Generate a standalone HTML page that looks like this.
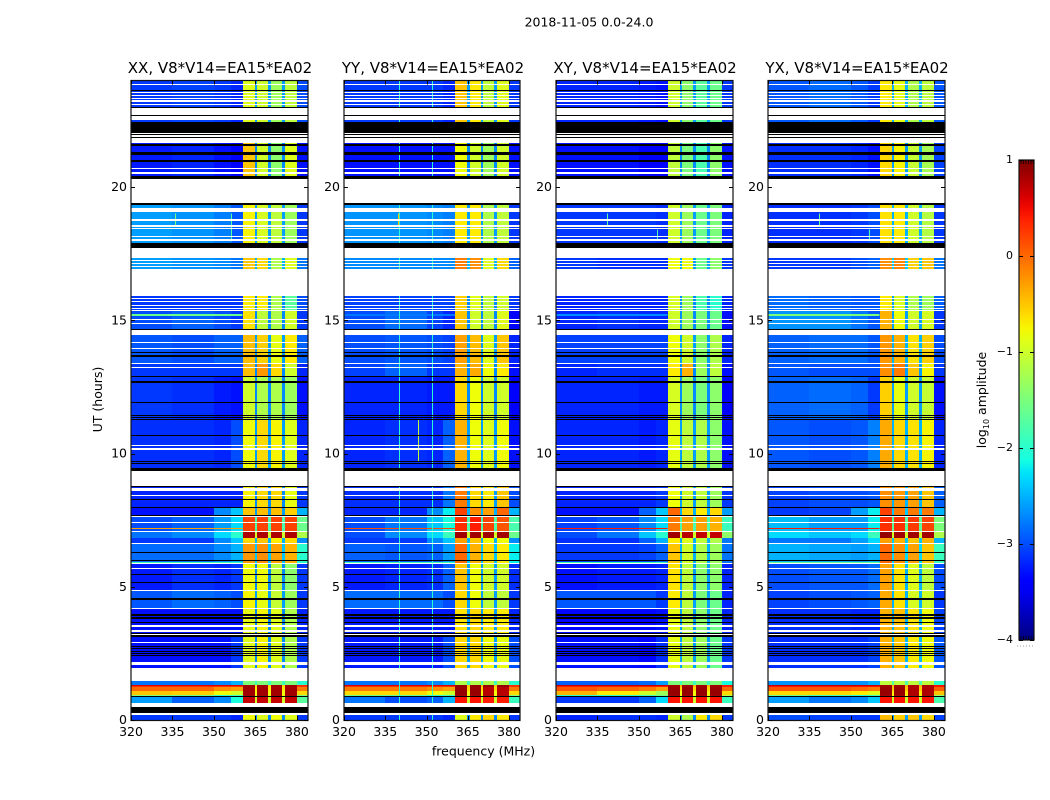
<!DOCTYPE html>
<html>
<head>
<meta charset="utf-8">
<title>Spectrogram 2018-11-05</title>
<style>
html,body{margin:0;padding:0;background:#fff;}
svg{display:block;}
text{font-family:"DejaVu Sans","Liberation Sans",sans-serif;fill:#000;}
</style>
</head>
<body>
<svg id="chart" xmlns="http://www.w3.org/2000/svg" width="1050" height="800" viewBox="0 0 1050 800">
  <rect x="0" y="0" width="1050" height="800" fill="#fff"/>
  <text x="589" y="26.5" text-anchor="middle" font-size="12.5">2018-11-05 0.0-24.0</text>
  <text x="220" y="73" text-anchor="middle" font-size="15">XX, V8*V14=EA15*EA02</text>
  <text x="433" y="73" text-anchor="middle" font-size="15">YY, V8*V14=EA15*EA02</text>
  <text x="645" y="73" text-anchor="middle" font-size="15">XY, V8*V14=EA15*EA02</text>
  <text x="857" y="73" text-anchor="middle" font-size="15">YX, V8*V14=EA15*EA02</text>
  <text x="483.5" y="755.5" text-anchor="middle" font-size="12.5">frequency (MHz)</text>
  <text transform="translate(102,399.5) rotate(-90)" text-anchor="middle" font-size="12.5">UT (hours)</text>
  <text transform="translate(986,400) rotate(-90)" text-anchor="middle" font-size="12.5">log<tspan font-size="8" dy="3">10</tspan><tspan dy="-3"> amplitude</tspan></text>
  <g id="plots"></g>
  <g id="cbar"></g>
</svg>
<script>
// Axis ranges and ticks
const freqRange = [320, 384];
const hourRange = [0, 24];
const levelRange = [-4, 1];
const freqTicks = [320, 335, 350, 365, 380];
const hourTicks = [0, 5, 10, 15, 20];
const levelTicks = [1, 0, -1, -2, -3, -4];
const panelNames = ['xx', 'yy', 'xy', 'yx'];

// Frequency segments (MHz): 320..335..350..356..360.4, four sub-bands with gaps, 380..384
const freqEdges = [320, 335, 350, 356, 360.4, 364.7, 365.7, 369.7, 370.7, 374.7, 375.7, 380, 384];
// Hour edges of the time blocks, top to bottom
const blockEdges = [24, 21.65, 19.41, 17.34, 15.9, 15.35, 14.46, 13.4, 12.87, 11.3, 8.78, 8.0, 7.6, 7.06, 6.82, 6.6, 5.9, 4.85, 4.15, 3.1, 1.46, 1.3, 1.22, 1.08, 0.95, 0.86, 0.5, 0];

// log10 amplitude per block: [320-335, 335-350, 350-356, 356-360, sub1, sub2, sub3, sub4, 380-384, gaps]
const xxLevels = [
[-3.1,-3.05,-3.1,-3.2,-0.9,-1.0,-1.3,-1.1,-3.0,-2.6],
[-3.25,-3.2,-3.3,-3.4,-0.5,-1.0,-1.4,-0.9,-3.3,-2.7],
[-2.6,-2.65,-2.75,-2.95,-0.75,-0.95,-1.1,-1.3,-3.1,-2.6],
[-2.6,-2.65,-2.7,-2.8,-0.5,-0.6,-1.2,-0.9,-2.8,-2.5],
[-3.1,-3.1,-3.1,-3.1,-0.7,-0.7,-1.2,-1.7,-3.0,-2.7],
[-3.0,-2.9,-3.0,-3.1,-0.65,-1.1,-1.2,-1.0,-3.1,-2.7],
[-2.95,-3.0,-2.9,-2.9,-0.45,-0.55,-0.85,-0.7,-2.9,-2.6],
[-3.1,-3.1,-3.1,-3.1,-0.45,-0.25,-0.6,-1.0,-3.2,-2.7],
[-3.1,-3.15,-3.25,-3.3,-1.0,-1.2,-1.2,-1.3,-3.3,-2.7],
[-3.15,-3.15,-3.2,-3.0,-0.8,-0.6,-0.75,-0.9,-3.2,-2.6],
[-3.2,-3.2,-3.2,-3.2,-0.75,-0.6,-0.6,-0.85,-3.1,-2.7],
[-3.3,-3.3,-2.7,-2.4,-0.5,-0.45,-0.45,-0.55,-2.5,-2.6],
[-3.0,-2.9,-2.6,-2.3,0.2,0.2,0.2,0.2,-1.6,-1.8],
[-2.8,-2.7,-2.3,-2.0,0.8,0.8,0.8,0.8,-1.2,-1.0],
[-3.1,-3.1,-2.7,-2.4,-0.6,-0.5,-0.7,-0.6,-2.7,-2.5],
[-2.85,-2.85,-2.7,-2.5,-0.25,-0.2,-0.3,-0.4,-2.0,-2.4],
[-3.25,-3.15,-3.2,-3.1,-0.8,-0.8,-1.1,-1.4,-3.1,-2.7],
[-2.95,-2.85,-2.9,-3.0,-0.75,-0.85,-1.05,-1.3,-3.1,-2.6],
[-3.3,-3.3,-3.3,-3.3,-0.85,-0.75,-0.9,-1.2,-3.2,-2.7],
[-3.3,-3.3,-3.3,-3.1,-0.9,-0.75,-0.9,-1.2,-3.1,-2.7],
[-2.8,-2.8,-2.7,-2.5,-1.5,-1.5,-1.5,-1.5,-2.0,-1.9],
[0.3,0.3,0.3,0.3,0.85,0.85,0.85,0.85,0.3,-0.6],
[0.0,0.0,-0.2,-0.3,0.85,0.85,0.85,0.85,-0.1,-0.7],
[-0.5,-0.55,-0.8,-1.0,0.85,0.85,0.85,0.85,-0.6,-0.8],
[-1.5,-1.6,-2.0,-1.9,0.85,0.85,0.85,0.85,-1.5,-0.8],
[-2.6,-2.9,-2.7,-2.1,0.7,0.7,0.7,0.7,-1.7,-1.0],
[-3.1,-3.1,-3.1,-3.2,-0.8,-0.9,-0.8,-0.9,-3.1,-2.7]
];
const yyLevels = [
[-3.1,-3.1,-3.1,-3.2,-0.5,-0.7,-1.1,-0.9,-3.1,-2.6],
[-3.3,-3.3,-3.3,-3.3,-0.8,-1.0,-1.3,-1.0,-3.3,-2.7],
[-2.65,-2.65,-2.7,-2.75,-0.7,-0.7,-1.2,-1.1,-3.1,-2.6],
[-2.7,-2.7,-2.7,-2.7,-0.1,-0.2,-0.9,-0.6,-2.9,-2.5],
[-3.05,-3.05,-3.05,-3.05,-0.55,-0.9,-1.1,-1.0,-3.1,-2.7],
[-3.0,-2.85,-3.05,-3.2,-0.5,-1.0,-1.1,-0.9,-3.4,-2.7],
[-3.0,-2.95,-3.0,-3.05,-0.3,-0.45,-0.9,-0.5,-3.2,-2.6],
[-3.05,-2.9,-3.1,-3.1,-0.4,-0.35,-0.8,-0.7,-3.3,-2.7],
[-3.2,-3.2,-3.25,-3.25,-0.6,-0.8,-1.0,-1.0,-3.4,-2.7],
[-3.2,-3.15,-3.2,-2.9,-0.4,-0.8,-0.9,-0.8,-3.3,-2.6],
[-3.15,-3.15,-3.15,-2.8,-0.1,-0.6,-0.7,-0.5,-3.0,-2.6],
[-3.2,-3.2,-2.7,-2.2,0.2,-0.2,-0.3,0.0,-2.5,-2.5],
[-3.0,-2.8,-2.4,-2.1,0.3,0.4,0.2,0.1,-1.8,-1.8],
[-3.0,-2.7,-2.3,-1.9,0.85,0.85,0.85,0.85,-1.6,-1.0],
[-3.1,-3.1,-2.7,-2.4,-0.3,-0.5,-0.8,-0.8,-2.7,-2.5],
[-2.9,-2.95,-2.9,-2.6,0.0,-0.4,-0.6,-0.7,-2.2,-2.4],
[-3.25,-3.2,-3.15,-2.9,-0.5,-0.8,-1.0,-1.0,-3.15,-2.6],
[-2.85,-2.85,-2.85,-3.0,-0.6,-0.8,-1.1,-1.1,-3.1,-2.6],
[-3.25,-3.25,-3.25,-3.25,-0.65,-0.6,-0.7,-0.7,-3.2,-2.6],
[-3.25,-3.25,-3.25,-3.0,-0.6,-0.6,-0.8,-0.85,-3.0,-2.6],
[-2.8,-2.8,-2.7,-2.5,-1.2,-1.2,-1.2,-1.2,-2.0,-1.9],
[0.3,0.3,0.3,0.3,0.9,0.9,0.9,0.9,0.3,-0.5],
[-0.1,-0.1,-0.2,-0.3,0.9,0.9,0.75,0.75,-0.1,-0.6],
[-0.6,-0.6,-0.8,-1.0,0.9,0.9,0.75,0.75,-0.6,-0.8],
[-1.6,-1.7,-2.0,-1.9,0.85,0.85,0.75,0.75,-1.5,-0.8],
[-2.8,-3.0,-2.9,-2.5,0.45,0.45,0.4,0.4,-1.9,-1.0],
[-3.1,-3.1,-3.1,-3.2,-0.9,-0.7,-0.6,-0.7,-3.1,-2.7]
];
const xyLevels = [
[-3.2,-3.2,-3.25,-3.3,-1.0,-1.4,-1.7,-1.6,-3.1,-2.6],
[-3.3,-3.3,-3.4,-3.4,-1.1,-1.5,-1.8,-1.4,-3.3,-2.7],
[-3.1,-3.1,-3.1,-3.15,-1.0,-1.3,-1.6,-1.5,-3.2,-2.6],
[-3.1,-3.15,-3.15,-3.15,-0.8,-0.8,-1.6,-1.4,-3.1,-2.6],
[-3.2,-3.2,-3.2,-3.2,-0.95,-1.3,-1.8,-2.0,-3.2,-2.7],
[-3.2,-3.15,-3.2,-3.2,-1.0,-1.3,-1.5,-1.6,-3.3,-2.7],
[-3.05,-3.05,-3.05,-3.05,-0.8,-1.0,-1.4,-1.2,-3.2,-2.6],
[-3.2,-3.15,-3.15,-3.15,-0.7,-0.4,-1.3,-1.1,-3.3,-2.7],
[-3.2,-3.2,-3.25,-3.25,-0.95,-1.3,-1.5,-1.4,-3.4,-2.7],
[-3.2,-3.2,-3.25,-3.2,-0.85,-1.1,-1.2,-1.4,-3.3,-2.6],
[-3.2,-3.2,-3.2,-3.1,-0.8,-1.0,-1.1,-1.3,-3.1,-2.6],
[-3.3,-3.3,-2.9,-2.4,0.0,-0.6,-0.7,-0.6,-2.6,-2.5],
[-3.05,-2.95,-2.7,-2.3,-0.1,-0.3,-0.3,-0.4,-1.9,-1.8],
[-3.0,-2.8,-2.4,-2.0,0.85,0.75,0.7,0.7,-1.4,-1.0],
[-3.15,-3.15,-2.9,-2.5,-0.7,-0.9,-1.1,-1.2,-2.8,-2.5],
[-3.1,-3.1,-3.05,-2.9,-0.5,-1.0,-1.2,-1.3,-2.8,-2.5],
[-3.3,-3.25,-3.25,-3.2,-0.65,-1.1,-1.4,-1.4,-3.2,-2.6],
[-2.95,-2.95,-2.95,-3.1,-0.7,-1.1,-1.5,-1.6,-3.2,-2.6],
[-3.35,-3.35,-3.35,-3.3,-0.85,-1.1,-1.4,-1.6,-3.2,-2.6],
[-3.3,-3.3,-3.35,-3.15,-0.85,-1.1,-1.3,-1.6,-3.1,-2.6],
[-2.9,-2.9,-2.85,-2.6,-1.5,-1.5,-1.5,-1.5,-2.1,-1.9],
[0.4,0.4,0.4,0.4,0.85,0.85,0.85,0.85,0.4,-0.4],
[0.1,0.0,-0.1,-0.3,0.9,0.9,0.9,0.9,0.0,-0.6],
[-0.4,-0.7,-1.0,-1.3,0.9,0.9,0.9,0.9,-0.6,-0.8],
[-2.0,-2.0,-1.9,-1.6,0.85,0.85,0.85,0.85,-1.2,-0.8],
[-3.1,-3.1,-2.9,-2.3,0.45,0.45,0.45,0.45,-1.9,-1.0],
[-3.2,-3.15,-3.15,-3.2,-1.0,-1.2,-0.7,-0.6,-3.1,-2.7]
];
const yxLevels = [
[-2.95,-2.85,-2.95,-3.1,-0.7,-0.85,-1.2,-1.1,-2.95,-2.5],
[-3.15,-3.15,-3.2,-3.3,-0.6,-0.75,-1.05,-1.25,-3.05,-2.6],
[-3.15,-3.15,-3.1,-3.0,-0.65,-0.7,-1.0,-1.15,-3.1,-2.5],
[-3.1,-3.1,-3.0,-2.9,-0.2,-0.15,-0.55,-0.5,-2.8,-2.4],
[-2.85,-2.9,-2.95,-2.95,-0.7,-0.95,-1.2,-1.3,-2.9,-2.6],
[-2.65,-2.65,-2.8,-2.95,-0.4,-0.8,-1.0,-0.95,-3.1,-2.6],
[-2.9,-2.85,-2.85,-2.95,-0.25,-0.4,-0.65,-0.55,-3.0,-2.5],
[-2.95,-3.0,-3.0,-3.0,-0.2,-0.1,-0.5,-0.75,-3.1,-2.6],
[-2.9,-2.85,-2.9,-3.1,-0.55,-0.85,-1.0,-1.05,-3.3,-2.6],
[-2.95,-3.0,-2.95,-2.75,-0.35,-0.6,-0.65,-0.75,-3.2,-2.5],
[-3.05,-3.0,-3.0,-2.95,-0.2,-0.25,-0.3,-0.5,-2.9,-2.5],
[-3.1,-3.05,-2.6,-2.2,0.2,-0.1,-0.1,-0.1,-2.5,-2.4],
[-2.45,-2.6,-2.6,-2.2,0.3,0.3,0.25,0.2,-1.5,-1.7],
[-2.3,-2.4,-2.3,-1.9,0.9,0.85,0.85,0.85,-1.2,-1.0],
[-2.8,-2.8,-2.6,-2.3,-0.3,-0.4,-0.5,-0.4,-2.5,-2.4],
[-2.5,-2.55,-2.6,-2.5,0.0,-0.2,-0.3,-0.5,-1.9,-2.3],
[-3.0,-2.95,-2.95,-2.85,-0.3,-0.65,-0.9,-1.1,-3.0,-2.5],
[-3.05,-3.0,-2.95,-2.9,-0.35,-0.65,-0.95,-1.0,-3.1,-2.5],
[-3.15,-3.15,-3.2,-3.2,-0.4,-0.45,-0.65,-0.8,-3.05,-2.5],
[-3.15,-3.15,-3.15,-3.05,-0.4,-0.5,-0.7,-0.8,-2.95,-2.5],
[-2.65,-2.65,-2.65,-2.5,-1.1,-1.1,-1.1,-1.1,-2.0,-1.8],
[0.45,0.45,0.45,0.45,0.85,0.85,0.8,0.8,0.45,-0.4],
[0.1,0.1,0.0,-0.1,0.9,0.9,0.8,0.8,0.05,-0.5],
[-0.6,-0.6,-0.7,-0.9,0.9,0.9,0.8,0.8,-0.5,-0.7],
[-1.6,-1.9,-2.1,-1.9,0.85,0.85,0.8,0.8,-1.4,-0.8],
[-2.6,-2.8,-2.7,-2.4,0.45,0.45,0.45,0.45,-1.8,-1.0],
[-3.0,-3.05,-3.1,-3.1,-0.45,-0.55,-0.5,-0.6,-3.05,-2.6]
];
const panelLevels = [xxLevels, yyLevels, xyLevels, yxLevels];

// Narrow horizontal features in 320-360 MHz: hour range and log amplitude per panel [xx, yy, xy, yx]
const lineFrom = [15.16, 7.16, 5.86, 1.26];
const lineTo = [15.22, 7.22, 5.92, 1.3];
const lineLevels = [
[-1.6, -2.8, -2.7, -1.5],
[-0.3, 0.15, 0.4, 0.4],
[-1.9, -1.9, -1.9, -1.7],
[0.6, 0.6, 0.7, 0.7]
];

// Vertical spurs: panel index, frequency (MHz), hour range, log amplitude
const spurPanel = [1, 1, 1, 0, 0, 1, 2, 3, 2, 3];
const spurFreq = [340, 352, 347, 356, 335.8, 339.7, 338.5, 338.5, 356.4, 356.4];
const spurFrom = [0, 0, 9.7, 17.95, 18.55, 18.55, 18.55, 18.55, 18, 18];
const spurTo = [24, 24, 11.3, 19, 19, 19, 19, 19, 18.4, 18.4];
const spurLevel = [-2.0, -2.0, -1.1, -1.7, -1.5, -0.5, -1.7, -1.7, -1.8, -1.8];

// No-data hours (white)
const whiteFrom = [23.84,23.60,23.52,23.41,23.31,23.20,23.10,22.71,22.50,22.00,21.87,21.66,20.66,20.50,19.41,19.07,18.72,18.51,18.42,18.12,17.99,17.78,17.34,17.22,17.12,16.99,15.90,15.80,15.68,15.55,15.44,15.35,15.03,14.86,14.46,14.15,13.92,13.36,13.22,10.28,10.13,8.78,8.61,8.41,7.62,7.39,7.06,6.59,5.85,5.68,4.84,4.15,3.50,3.29,3.18,2.90,2.05,1.46,0.49,0.18];
const whiteTo = [23.87,23.64,23.55,23.45,23.35,23.25,23.12,22.96,22.67,22.03,21.97,21.85,20.70,20.56,20.32,19.22,18.82,18.57,18.46,18.15,18.05,17.80,17.72,17.25,17.14,17.03,16.94,15.84,15.71,15.59,15.48,15.38,15.06,14.90,14.65,14.19,13.96,13.40,13.26,10.33,10.19,9.36,8.70,8.44,7.66,7.44,7.11,6.63,5.88,5.72,4.89,4.20,3.56,3.38,3.23,2.94,2.17,1.96,0.65,0.27];
// Hours drawn black
const blackFrom = [23.64,22.96,22.67,22.03,21.97,21.85,21.55,21.26,21.21,20.95,20.32,19.34,17.80,17.72,14.65,13.76,13.61,12.87,12.65,11.89,11.42,11.35,11.25,10.66,9.67,9.61,9.36,8.73,8.26,7.97,7.64,6.27,5.97,5.45,5.14,4.50,3.91,3.79,3.64,3.23,3.10,2.74,2.65,2.58,2.49,2.40,0.86,0.27];
const blackTo = [23.66,23.00,22.71,22.45,22.00,21.87,21.62,21.30,21.25,21.02,20.43,19.41,17.90,17.78,14.69,13.80,13.69,12.92,12.71,11.95,11.46,11.39,11.30,10.70,9.71,9.63,9.45,8.78,8.30,8.01,7.69,6.31,6.00,5.49,5.18,4.57,3.96,3.85,3.69,3.25,3.18,2.78,2.69,2.60,2.53,2.44,0.90,0.49];

// Panel placement (layout only)
const panelLeft = [131, 344, 556, 768];
const panelRight = [308, 520, 733, 945];
const plotTop = 80.5, plotBottom = 720;
const cbarLeft = 1019, cbarRight = 1034, cbarTop = 160, cbarBottom = 640;

const NS = 'http://www.w3.org/2000/svg';
function make(tag, attrs, parent) {
  const el = document.createElementNS(NS, tag);
  for (const k in attrs) el.setAttribute(k, attrs[k]);
  parent.appendChild(el);
  return el;
}
function xScale(p, f) {
  return panelLeft[p] + (f - freqRange[0]) / (freqRange[1] - freqRange[0]) * (panelRight[p] - panelLeft[p]);
}
function yScale(h) {
  return plotBottom - (h - hourRange[0]) / (hourRange[1] - hourRange[0]) * (plotBottom - plotTop);
}
function cbarY(v) {
  return cbarBottom - (v - levelRange[0]) / (levelRange[1] - levelRange[0]) * (cbarBottom - cbarTop);
}
function interp(t, xs, ys) {
  for (let i = 1; i < xs.length; i++) {
    if (t <= xs[i]) return ys[i - 1] + (ys[i] - ys[i - 1]) * (t - xs[i - 1]) / (xs[i] - xs[i - 1]);
  }
  return ys[ys.length - 1];
}
function jet(v) {
  const t = Math.min(1, Math.max(0, (v - levelRange[0]) / (levelRange[1] - levelRange[0])));
  const r = interp(t, [0, 0.35, 0.66, 0.89, 1], [0, 0, 1, 1, 0.5]);
  const g = interp(t, [0, 0.125, 0.375, 0.64, 0.91, 1], [0, 0, 1, 1, 0, 0]);
  const b = interp(t, [0, 0.11, 0.34, 0.65, 1], [0.5, 1, 1, 0, 0]);
  return 'rgb(' + Math.round(r * 255) + ',' + Math.round(g * 255) + ',' + Math.round(b * 255) + ')';
}
// Which level column each frequency segment reads
const segmentLevel = [0, 1, 2, 3, 4, 9, 5, 9, 6, 9, 7, 8];

function drawBand(group, p, from, to, kind, fill) {
  const y0 = Math.round(yScale(to));
  const y1 = Math.round(yScale(from));
  const r = make('rect', {
    x: panelLeft[p], y: y0,
    width: panelRight[p] - panelLeft[p],
    height: Math.max(1, y1 - y0),
    fill: fill, 'shape-rendering': 'crispEdges'
  }, group);
  
  
}

const plots = document.getElementById('plots');
panelNames.forEach(function (name, p) {
  const g = make('g', {}, plots);
  
  

  // heatmap blocks
  panelLevels[p].forEach(function (row, b) {
    const y0 = Math.round(yScale(blockEdges[b]));
    const y1 = Math.round(yScale(blockEdges[b + 1]));
    segmentLevel.forEach(function (col, s) {
      const x0 = Math.round(xScale(p, freqEdges[s]));
      const x1 = Math.round(xScale(p, freqEdges[s + 1]));
      const cell = make('rect', {
        x: x0, y: y0, width: x1 - x0, height: y1 - y0,
        fill: jet(row[col]), 'shape-rendering': 'crispEdges'
      }, g);
      
      
    });
  });

  // narrow horizontal features
  lineFrom.forEach(function (from, i) {
    const y0 = Math.round(yScale(lineTo[i]));
    const y1 = Math.round(yScale(from));
    const r = make('rect', {
      x: xScale(p, freqRange[0]), y: y0,
      width: xScale(p, freqEdges[4]) - xScale(p, freqRange[0]),
      height: Math.max(1, y1 - y0),
      fill: jet(lineLevels[i][p]), 'shape-rendering': 'crispEdges'
    }, g);
    
    
  });

  // vertical spurs
  spurPanel.forEach(function (sp, i) {
    if (sp !== p) return;
    const y0 = yScale(spurTo[i]);
    const r = make('rect', {
      x: Math.round(xScale(p, spurFreq[i])), y: y0, width: 1,
      height: yScale(spurFrom[i]) - y0,
      fill: jet(spurLevel[i]), 'shape-rendering': 'crispEdges'
    }, g);
    
    
  });

  // no-data and black rows
  whiteFrom.forEach(function (from, i) { drawBand(g, p, from, whiteTo[i], 'no-data-row', '#fff'); });
  blackFrom.forEach(function (from, i) { drawBand(g, p, from, blackTo[i], 'black-row', '#000'); });

  // frame
  const frame = make('rect', {
    x: panelLeft[p], y: plotTop, width: panelRight[p] - panelLeft[p], height: plotBottom - plotTop + 0.5,
    fill: 'none', stroke: '#111', 'stroke-width': 1.2
  }, g);
  
  

  // frequency ticks
  freqTicks.forEach(function (f) {
    const x = Math.round(xScale(p, f)) + 0.5;
    const t1 = make('line', { x1: x, x2: x, y1: plotBottom, y2: plotBottom - 4, stroke: '#000', 'stroke-width': 1 }, g);
    
    
    const t2 = make('line', { x1: x, x2: x, y1: plotTop, y2: plotTop + 4, stroke: '#000', 'stroke-width': 1 }, g);
    
    
    const lab = make('text', { x: xScale(p, f), y: 736, 'text-anchor': 'middle', 'font-size': 12.5 }, g);
    lab.textContent = String(f);
    
    
  });

  // hour ticks
  hourTicks.forEach(function (h) {
    const y = Math.round(yScale(h)) + 0.5;
    const t1 = make('line', { x1: panelLeft[p], x2: panelLeft[p] + 4, y1: y, y2: y, stroke: '#000', 'stroke-width': 1 }, g);
    
    
    const t2 = make('line', { x1: panelRight[p], x2: panelRight[p] - 4, y1: y, y2: y, stroke: '#000', 'stroke-width': 1 }, g);
    
    
    const lab = make('text', { x: panelLeft[p] - 4, y: yScale(h) + 4, 'text-anchor': 'end', 'font-size': 12.5 }, g);
    lab.textContent = String(h);
    
    
  });
});

// colorbar
const cbar = document.getElementById('cbar');
const defs = make('defs', {}, cbar);
const grad = make('linearGradient', { id: 'jetGrad', x1: 0, y1: 1, x2: 0, y2: 0 }, defs);
for (let i = 0; i <= 40; i++) {
  const v = levelRange[0] + (levelRange[1] - levelRange[0]) * i / 40;
  make('stop', { offset: (i / 40), 'stop-color': jet(v) }, grad);
}
const bar = make('rect', {
  x: cbarLeft, y: cbarTop, width: cbarRight - cbarLeft, height: cbarBottom - cbarTop,
  fill: 'url(#jetGrad)', stroke: '#111', 'stroke-width': 1.2
}, cbar);



levelTicks.forEach(function (v) {
  const y = Math.round(cbarY(v)) + 0.5;
  const t1 = make('line', { x1: cbarLeft, x2: cbarLeft + 4, y1: y, y2: y, stroke: '#000', 'stroke-width': 1 }, cbar);
  
  
  const t2 = make('line', { x1: cbarRight, x2: cbarRight - 4, y1: y, y2: y, stroke: '#000', 'stroke-width': 1 }, cbar);
  
  
  const lab = make('text', { x: cbarLeft - 6, y: cbarY(v) + 3, 'text-anchor': 'end', 'font-size': 11 }, cbar);
  lab.textContent = v < 0 ? '\u2212' + Math.abs(v) : String(v);
  
  
});

// minor ticks at the colorbar ends and dotted mark below it
for (let x = cbarLeft + 2; x < cbarRight; x += 2.5) {
  [[cbarTop, cbarTop + 4], [cbarBottom, cbarBottom - 4]].forEach(function (pair) {
    const m = make('line', { x1: x, x2: x, y1: pair[0], y2: pair[1], stroke: '#000', 'stroke-width': 0.7 }, cbar);
    
    
  });
}
const dots = make('line', { x1: cbarLeft - 2, x2: cbarRight, y1: 646, y2: 646, stroke: '#999', 'stroke-width': 1, 'stroke-dasharray': '1 2' }, cbar);


</script>
</body>
</html>
